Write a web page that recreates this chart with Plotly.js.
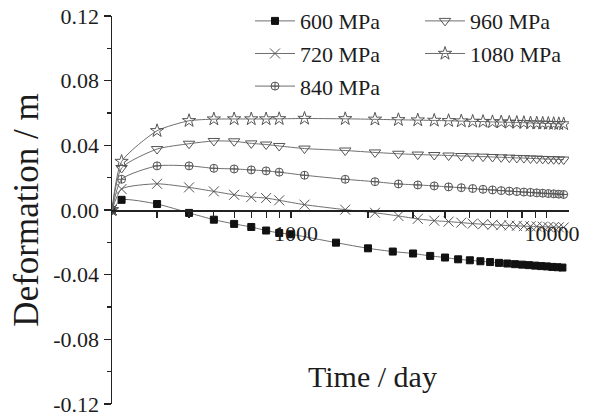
<!DOCTYPE html>
<html>
<head>
<meta charset="utf-8">
<script src="https://cdn.plot.ly/plotly-3.0.1.min.js"></script>
<style>
  html, body { margin: 0; padding: 0; background: #fff; }
  #chart { width: 592px; height: 417px; }
</style>
</head>
<body>
<div id="chart"></div>
<script>
// Creep deformation over time (log time axis) for five stress levels.

// Sampling times (day) of the 600 MPa run
const t600 = [200, 218, 300, 400, 500, 600, 700, 800, 900, 1000, 1500, 2000, 2500, 3000, 3500,
  4000, 4500, 5000, 5500, 6000, 6500, 7000, 7500, 8000, 8500, 9000, 9500, 10000, 10500, 11000, 11500];
// Sampling times (day) of the 720 / 840 / 960 / 1080 MPa runs
const tRuns = [200, 218, 300, 400, 500, 600, 700, 800, 900, 1130, 1630, 2130, 2630, 3130, 3630,
  4130, 4630, 5130, 5630, 6130, 6630, 7130, 7630, 8130, 8630, 9130, 9630, 10130, 10630, 11130, 11630];

// Deformation (m)
const d600 = [0, 0.0063, 0.0037, -0.0018, -0.0060, -0.0086, -0.0105, -0.0127, -0.0142, -0.0150,
  -0.0202, -0.0237, -0.0257, -0.0269, -0.0284, -0.0294, -0.0305, -0.0311, -0.0317, -0.0322,
  -0.0327, -0.0331, -0.0335, -0.0338, -0.0341, -0.0344, -0.0347, -0.0349, -0.0352, -0.0354, -0.0356];
const d720 = [0, 0.0130, 0.0162, 0.0140, 0.0115, 0.0094, 0.0080, 0.0074, 0.0060,
  0.0033, 0.0002, -0.0017, -0.0037, -0.0055, -0.0066, -0.0072, -0.0078, -0.0084, -0.0088,
  -0.0091, -0.0094, -0.0096, -0.0098, -0.0100, -0.0101, -0.0102, -0.0103, -0.0105, -0.0106, -0.0107, -0.0108];
const d840 = [0, 0.0190, 0.0273, 0.0273, 0.0258, 0.0254, 0.0248, 0.0242, 0.0234,
  0.0215, 0.0190, 0.0175, 0.0161, 0.0155, 0.0149, 0.0143, 0.0138, 0.0133, 0.0128,
  0.0124, 0.0120, 0.0117, 0.0114, 0.0111, 0.0109, 0.0106, 0.0104, 0.0102, 0.0100, 0.0098, 0.0096];
const d960 = [0, 0.0260, 0.0377, 0.0410, 0.0427, 0.0425, 0.0412, 0.0405, 0.0396,
  0.0380, 0.0368, 0.0356, 0.0348, 0.0343, 0.0340, 0.0337, 0.0334, 0.0332, 0.0330,
  0.0328, 0.0326, 0.0324, 0.0322, 0.0321, 0.0319, 0.0318, 0.0316, 0.0315, 0.0314, 0.0313, 0.0312];
const d1080 = [0, 0.0300, 0.0490, 0.0552, 0.0562, 0.0563, 0.0563, 0.0563, 0.0564,
  0.0566, 0.0564, 0.0561, 0.0558, 0.0556, 0.0554, 0.0552, 0.0550, 0.0548, 0.0547,
  0.0545, 0.0544, 0.0542, 0.0541, 0.0540, 0.0538, 0.0537, 0.0536, 0.0535, 0.0534, 0.0533, 0.0532];

const seriesNames = ['600 MPa', '720 MPa', '840 MPa', '960 MPa', '1080 MPa'];

// Axis ticks
const xTickVals = [300, 400, 500, 600, 700, 800, 900, 1000, 2000, 3000, 4000, 5000, 6000, 7000, 8000, 9000, 10000];
const xTickText = ['', '', '', '', '', '', '', '1000', '', '', '', '', '', '', '', '', '10000'];
const yTickVals = [-0.12, -0.08, -0.04, 0, 0.04, 0.08, 0.12];
const yTickText = ['-0.12', '-0.08', '-0.04', '0.00', '0.04', '0.08', '0.12'];
const yMinorVals = [-0.10, -0.06, -0.02, 0.02, 0.06, 0.10];

const lineGrey = '#6f6f6f';
const markGrey = '#555555';

function run(name, x, y, symbol, size, color, legend) {
  const filled = symbol.indexOf('open') < 0;
  return {
    type: 'scatter', mode: 'lines+markers', name: name, x: x, y: y,
    legend: legend, legendgroup: name,
    line: { color: lineGrey, width: 1, shape: 'spline', smoothing: 0.6 },
    marker: filled
      ? { symbol: symbol, size: size, color: color, line: { color: color, width: 1 } }
      : { symbol: symbol, size: size, color: color, line: { width: 1 } },
    hoverinfo: 'skip'
  };
}

const traces = [
  run(seriesNames[0], t600, d600, 'square', 7, '#111', 'legend'),
  run(seriesNames[1], tRuns, d720, 'x-thin-open', 10, markGrey, 'legend'),
  run(seriesNames[2], tRuns, d840, 'circle-cross-open', 8, markGrey, 'legend'),
  run(seriesNames[3], tRuns, d960, 'triangle-down-open', 10, markGrey, 'legend2'),
  run(seriesNames[4], tRuns, d1080, 'star-open', 10, markGrey, 'legend2')
];

const serif = '"Liberation Serif", "Times New Roman", serif';

const layout = {
  width: 592, height: 417,
  margin: { l: 112, r: 23, t: 16, b: 13, autoexpand: false },
  paper_bgcolor: '#fff', plot_bgcolor: '#fff',
  font: { family: serif, color: '#1c1c1c', size: 22 },
  showlegend: true,
  xaxis: {
    type: 'log', range: [Math.log10(200), Math.log10(12200)],
    anchor: 'free', position: 0.5, automargin: false,
    showline: true, linecolor: '#222', linewidth: 1.5,
    ticks: 'outside', ticklen: 6, tickwidth: 1.2, tickcolor: '#222',
    tickmode: 'array', tickvals: xTickVals, ticktext: xTickText,
    tickfont: { family: serif, size: 22 }, ticklabelshift: 5, ticklabelstandoff: -3,
    showgrid: false, zeroline: false
  },
  yaxis: {
    range: [-0.12, 0.12], automargin: false,
    showline: true, linecolor: '#222', linewidth: 1.5,
    ticks: 'outside', ticklen: 7, tickwidth: 1.2, tickcolor: '#222',
    tickmode: 'array', tickvals: yTickVals, ticktext: yTickText,
    tickfont: { family: serif, size: 22 }, ticklabeloverflow: 'allow',
    minor: { tickmode: 'array', tickvals: yMinorVals, ticks: 'outside', ticklen: 4, tickwidth: 1.2, tickcolor: '#222', showgrid: false },
    title: { text: 'Deformation / m', font: { family: serif, size: 35 }, standoff: 4 },
    showgrid: false, zeroline: false
  },
  legend: {
    x: 0.302, y: 1.041, xanchor: 'left', yanchor: 'top',
    bgcolor: 'rgba(0,0,0,0)', font: { family: serif, size: 22 },
    traceorder: 'grouped', tracegroupgap: 1, itemwidth: 40
  },
  legend2: {
    x: 0.674, y: 1.041, xanchor: 'left', yanchor: 'top',
    bgcolor: 'rgba(0,0,0,0)', font: { family: serif, size: 22 },
    traceorder: 'grouped', tracegroupgap: 1, itemwidth: 40
  },
  annotations: [{
    text: 'Time / day', xref: 'paper', yref: 'paper', x: 0.569, y: 0.07,
    xanchor: 'center', yanchor: 'middle', showarrow: false,
    font: { family: serif, size: 30 }
  }]
};

Plotly.newPlot('chart', traces, layout, { displayModeBar: false, staticPlot: true });
</script>
</body>
</html>
